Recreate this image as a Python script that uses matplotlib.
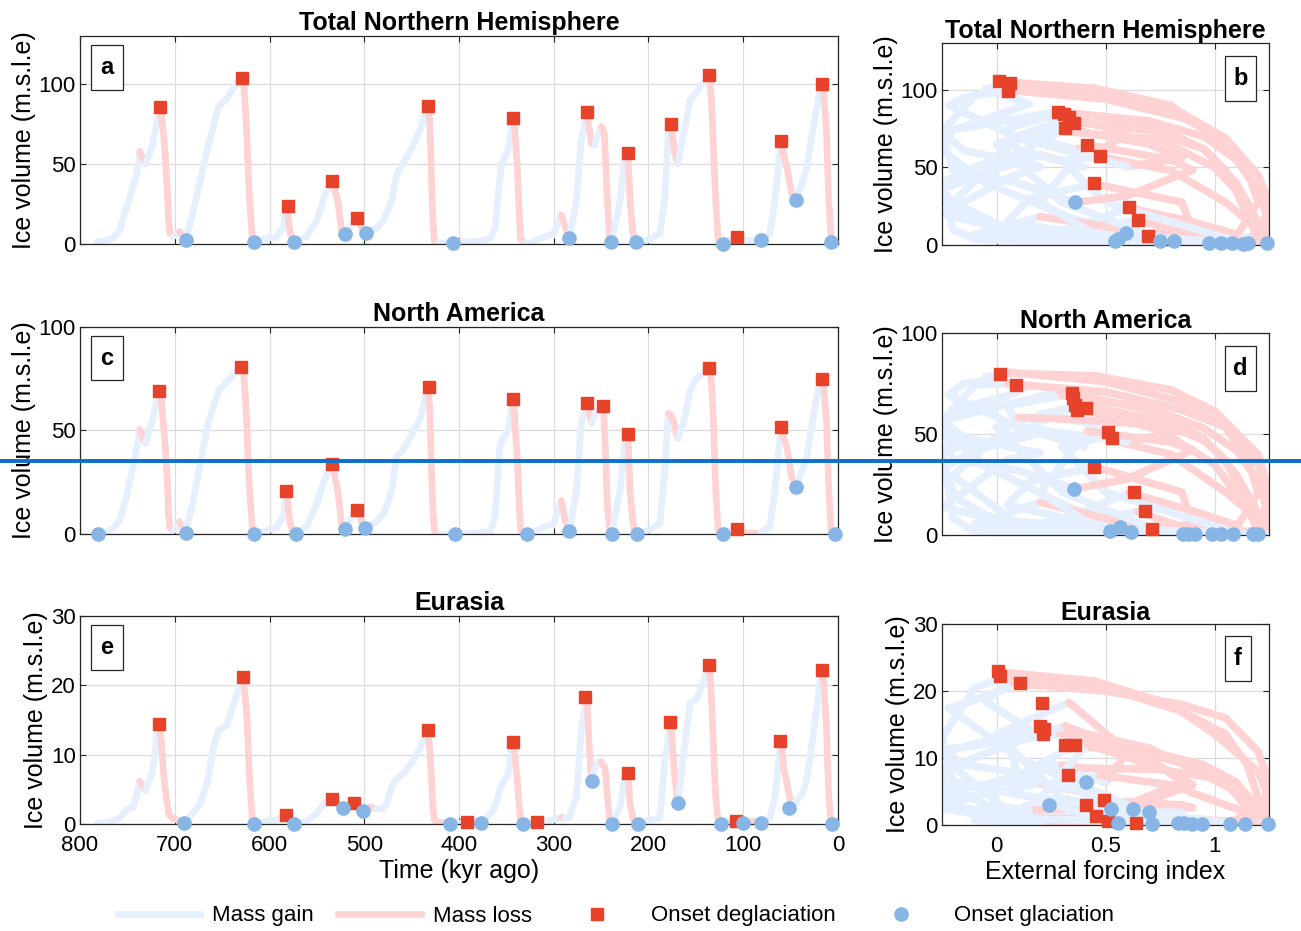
import numpy as np
import matplotlib
matplotlib.use("Agg")
import matplotlib.pyplot as plt
from matplotlib.collections import LineCollection
from matplotlib.lines import Line2D
from matplotlib.patches import Rectangle

plt.rcParams['font.family'] = ['Liberation Sans', 'DejaVu Sans']

# ---- data (time in kyr ago, volume in m s.l.e.) ----
time_kyr = [782, 772, 765, 758, 751, 744, 740, 737, 731, 724,
            719, 716, 714, 712, 710, 708, 706.5, 705, 701, 695,
            689, 682, 673, 665, 659, 654, 645, 635, 629, 627,
            625.5, 624, 622.5, 621, 618, 616, 603, 593, 585, 582,
            580, 578, 574, 561, 550, 542, 534, 528, 524, 520,
            515, 508, 501, 499, 494, 487, 480, 476, 471, 466,
            459, 449, 440, 433, 431, 430, 429, 427.5, 426, 422,
            406, 391, 377, 367, 362, 357, 355, 348, 343, 341.5,
            340, 338.5, 336.5, 335, 330, 325, 317, 310, 300, 292,
            288, 283.5, 276, 271, 265, 262.5, 260, 257, 253, 249.8,
            248, 246.5, 245, 243.4, 241, 239, 230, 225, 222, 221,
            219.5, 217, 215, 212, 198, 188, 183, 179, 176.5, 174,
            172, 169, 163, 156, 149, 142, 136.6, 135, 133.5, 132,
            130.5, 129, 126.5, 121.5, 107, 100, 90, 82, 72, 66.5,
            60.2, 57, 54, 49, 44.4, 37, 33, 26, 19, 16.7,
            15, 13.5, 12, 11, 9.7, 7, 4]
vol_nh = [1.5, 2.5, 4, 9, 23, 36, 44, 58, 50.5, 61,
          75, 85.5, 80, 70, 55, 35, 15, 7, 5, 8,
          2.7, 17, 40, 61, 74, 86, 91, 100.5, 103.7, 98,
          85, 69, 45, 27.6, 2, 1.2, 3.7, 4.4, 11, 24,
          15, 7, 1.2, 4.7, 15, 30, 39.5, 27.6, 9, 6.2,
          11, 16.2, 8, 6.9, 8, 10, 15, 20, 27.6, 43,
          50.5, 61, 73, 86.3, 78, 62, 40, 15, 2, 0.8,
          1.0, 1.5, 2.0, 3.7, 10, 40, 50.5, 59, 79, 74,
          62, 48.4, 20, 3.7, 0.5, 0.6, 3.0, 4.5, 6.9, 18.3,
          11, 3.7, 27.6, 65, 82.3, 72, 63, 62, 68, 73.5,
          72, 68, 50, 27.6, 2.7, 1.2, 27.6, 54.7, 57, 48,
          27.6, 10, 2.7, 1.2, 3.1, 6.9, 27.6, 69, 75, 65,
          56, 50.5, 69, 90, 95, 101.4, 105.4, 101, 90, 69,
          45, 27.6, 2.7, 0.0, 4.7, 2.7, 2.7, 2.7, 6.9, 27.6,
          64.6, 55, 48.4, 31.8, 27.4, 40, 48.4, 73.4, 96.2, 99.8,
          94, 82, 69, 48, 27.6, 1.2, 0.8]
vol_na = [0.0, 1.0, 2.9, 7, 18, 33, 42, 50.5, 43.8, 54,
          64, 69.2, 63, 53, 42, 27, 9, 3, 2, 6,
          0.8, 13, 34, 53, 62, 69, 73.5, 78.3, 80.7, 76,
          66, 53.5, 35, 21, 2, 0.2, 2.0, 3.0, 9.5, 21,
          12, 5, 0.0, 3.7, 14.9, 26.2, 33.9, 21.3, 5.3, 2.4,
          7, 11.7, 4, 3.2, 4.5, 6.1, 10, 14, 21.3, 37.4,
          40.6, 48.6, 56.7, 71.1, 62, 48, 30, 11, 2, 0.0,
          0.0, 0.3, 0.8, 1.3, 8.5, 42, 45, 50.2, 65, 58,
          47, 37.4, 14, 2.0, 0.0, 0.5, 2.0, 3.5, 5.3, 16.2,
          6.9, 1.8, 21.3, 53.5, 63.1, 58, 53.5, 57, 60, 62,
          62, 52, 35, 13.3, 3.0, 0.0, 21.3, 43.8, 48.3, 40,
          21.3, 8, 2.0, 0.0, 2.4, 5.3, 29.4, 58.3, 57.5, 55,
          52, 46.2, 53.5, 69.5, 75.1, 77.5, 80.3, 79, 72, 61.5,
          40, 21.3, 2.0, 0.0, 2.7, 0.8, 0.6, 0.5, 3.7, 21.3,
          51.5, 46, 42.2, 27.8, 22.8, 32, 37.4, 56.7, 74.3, 75,
          71, 62, 53.5, 38, 21.3, 0.0, 0.0]
vol_eu = [0.1, 0.3, 0.5, 0.9, 2.1, 2.5, 4.3, 6.2, 4.9, 7.3,
          12.6, 14.4, 11.5, 7.5, 5.0, 3.0, 1.6, 1.2, 0.8, 0.5,
          0.2, 1.4, 3.0, 6.4, 11.2, 13.5, 14.3, 18.5, 21.2, 20,
          18, 16, 11, 6.4, 0.4, 0.0, 0.4, 0.6, 1.0, 1.34,
          0.9, 0.5, 0.0, 0.4, 1.6, 3.0, 3.7, 3.0, 2.6, 2.35,
          2.8, 3.1, 1.9, 2.0, 2.5, 2.2, 2.3, 3.0, 5.5, 6.5,
          7.3, 9.0, 11.2, 13.6, 11, 9, 6.4, 2.5, 0.6, 0.3,
          0.0, 0.35, 0.2, 1.5, 2.5, 5.0, 5.7, 7.3, 11.9, 10.5,
          8.5, 6.4, 2.5, 0.6, 0.0, 0.2, 0.4, 0.3, 0.7, 1.0,
          0.8, 1.0, 4.0, 13.6, 18.3, 11, 6.3, 8.0, 9.0, 9.0,
          8.5, 8.3, 7, 4.0, 0.6, 0.1, 2.5, 6.9, 7.4, 6,
          3.0, 1.2, 0.4, 0.0, 0.6, 0.9, 8.8, 12.5, 14.8, 10,
          6.4, 3.0, 10, 17.5, 18.1, 20.5, 22.9, 21.5, 18, 13.6,
          8, 4.0, 0.5, 0.1, 0.5, 0.24, 0.4, 0.24, 0.9, 4.0,
          12, 8, 6.0, 2.5, 3.3, 4.5, 6.5, 13, 20.5, 22.2,
          20.5, 17, 13.6, 9, 4.0, 0.1, 0.0]
forcing = [0.95, 0.55, 0.25, 0.0, -0.18, -0.25, -0.1, 0.2, 0.4, 0.1,
           0.05, 0.3, 0.7, 0.95, 1.1, 1.2, 1.25, 1.22, 1.15, 1.0,
           0.81, 0.35, -0.05, -0.25, -0.2, 0.05, 0.15, -0.05, 0.06, 0.5,
           0.85, 1.05, 1.2, 1.25, 1.2, 0.98, 0.45, 0.1, 0.35, 0.607,
           0.9, 1.1, 1.03, 0.5, 0.05, 0.15, 0.447, 0.85, 0.9, 0.56,
           0.45, 0.647, 0.85, 0.59, 0.4, 0.15, -0.1, -0.25, -0.15, 0.05,
           0.2, -0.15, -0.25, 0.29, 0.7, 0.95, 1.1, 1.2, 1.25, 1.22,
           1.08, 0.64, 0.2, -0.1, -0.2, -0.25, -0.1, 0.1, 0.356, 0.7,
           0.95, 1.05, 1.15, 1.2, 1.15, 1.0, 0.6, 0.2, -0.1, 0.2,
           0.55, 0.75, 0.3, 0.0, 0.333, 0.6, 0.5, 0.35, 0.2, 0.3,
           0.4, 0.75, 1.0, 1.15, 1.22, 1.13, 0.5, 0.3, 0.475, 0.8,
           1.05, 1.2, 1.22, 1.155, 0.6, 0.1, -0.2, 0.1, 0.315, 0.7,
           0.85, 0.6, 0.1, -0.22, -0.15, 0.05, 0.009, 0.45, 0.8, 1.0,
           1.2, 1.25, 1.25, 1.24, 0.694, 0.8, 0.85, 0.977, 0.45, 0.2,
           0.417, 0.8, 0.9, 0.6, 0.358, 0.1, -0.2, -0.25, -0.1, 0.052,
           0.5, 0.85, 1.05, 1.15, 1.2, 1.08, 1.2]

# onset markers on the time axis
nh_deg_t = [715.6, 628.6, 581, 533.9, 508, 432.6, 342.7, 265.3, 222, 176.3, 136.6, 106.6, 60.2, 16.6]
nh_deg_v = [85.5, 103.7, 24, 39.5, 16.2, 86.3, 79, 82.3, 57, 75, 105.4, 4.7, 64.6, 99.8]
nh_gla_t = [688.5, 616, 574, 519.8, 498.6, 406, 283.5, 240, 213.2, 121.3, 81.7, 44.4, 7]
nh_gla_v = [2.7, 1.2, 1.2, 6.2, 6.9, 1.0, 3.7, 1.2, 1.2, 0.0, 2.7, 27.4, 1.2]
na_deg_t = [716.6, 630.5, 582.3, 534.4, 508, 431.7, 342.7, 265.3, 248.4, 221.3, 136.5, 106.3, 59.7, 16.8]
na_deg_v = [69.2, 80.7, 21, 33.9, 11.7, 71.1, 65, 63.1, 62, 48.3, 80.3, 2.7, 51.5, 75]
na_gla_t = [781.3, 688.5, 616.4, 572.4, 520.7, 499.6, 404.2, 328.6, 283.6, 238.9, 212.2, 121, 44.6, 2.7]
na_gla_v = [0, 0.8, 0.2, 0, 2.4, 3.2, 0, 0, 1.8, 0, 0, 0, 22.8, 0]
eu_deg_t = [716.4, 627.8, 582.9, 533.6, 510.8, 432.7, 391.2, 342.6, 317.3, 267, 222, 177.3, 136.5, 107.6, 61.2, 17.2]
eu_deg_v = [14.4, 21.2, 1.34, 3.7, 3.1, 13.6, 0.3, 11.9, 0.4, 18.3, 7.4, 14.8, 22.9, 0.5, 12, 22.2]
eu_gla_t = [690, 616.6, 574.4, 522.4, 501.3, 409.5, 377.1, 332.1, 260, 238.9, 211.4, 168.5, 123.5, 99.9, 81.6, 51.4, 6.7]
eu_gla_v = [0.2, 0, 0, 2.35, 1.9, 0, 0.24, 0, 6.3, 0.1, 0, 3.0, 0.1, 0.24, 0.24, 2.4, 0.1]

# onset markers in forcing space
b_deg_f = [0.009, 0.06, 0.052, 0.283, 0.31, 0.333, 0.356, 0.315, 0.417, 0.475, 0.447, 0.607, 0.647, 0.694]
b_deg_v = [105.4, 104.1, 99.4, 86, 84.7, 82.7, 78.8, 75.6, 64.6, 57.2, 39.7, 24.4, 16.2, 5.6]
b_gla_f = [0.358, 0.545, 0.559, 0.592, 0.749, 0.813, 0.977, 1.029, 1.079, 1.132, 1.155, 1.239]
b_gla_v = [27.6, 2.5, 4.1, 7.6, 2.6, 2.6, 1.5, 1.5, 1.5, 0.4, 1.5, 1.5]
d_deg_f = [0.017, 0.09, 0.345, 0.352, 0.36, 0.371, 0.41, 0.513, 0.528, 0.447, 0.63, 0.683, 0.711]
d_deg_v = [79.8, 74.4, 70.6, 68.0, 64.5, 62.0, 62.8, 51.2, 48.3, 33.9, 21.2, 11.9, 3.0]
d_gla_f = [0.356, 0.52, 0.565, 0.615, 0.855, 0.878, 0.912, 0.988, 1.03, 1.087, 1.178, 1.2]
d_gla_v = [22.8, 2.1, 3.8, 1.3, 0.3, 0.3, 0.3, 0.3, 0.3, 0.3, 0.3, 0.3]
f_deg_f = [0.006, 0.017, 0.108, 0.209, 0.2, 0.219, 0.212, 0.315, 0.361, 0.329, 0.409, 0.493, 0.458, 0.513, 0.641]
f_deg_v = [23, 22.2, 21.2, 18.3, 14.75, 14.4, 13.55, 11.9, 11.9, 7.5, 3.05, 3.75, 1.3, 0.55, 0.3]
f_gla_f = [0.409, 0.242, 0.524, 0.626, 0.699, 0.556, 0.711, 0.833, 0.858, 0.896, 0.942, 1.072, 1.14, 1.244]
f_gla_v = [6.4, 3.0, 2.4, 2.4, 2.0, 0.3, 0.1, 0.3, 0.3, 0.2, 0.1, 0.1, 0.1, 0.1]

GAIN = '#E5EFFD'
LOSS = '#FFD3D3'
RED = '#E7432B'
BLUE = '#86B5E6'
DARK = '#262626'


def draw_track(ax, x, y, lw=4.8):
    # segments coloured by sign of the volume change
    x = np.asarray(x, float)
    y = np.asarray(y, float)
    pts = np.column_stack([x, y])
    segs = np.stack([pts[:-1], pts[1:]], axis=1)
    cols = [GAIN if d >= 0 else LOSS for d in np.diff(y)]
    lc = LineCollection(segs, colors=cols, linewidths=lw, capstyle='round', joinstyle='round', zorder=2)
    ax.add_collection(lc)


def style_axes(ax, ylim, yticks):
    ax.set_ylim(*ylim)
    ax.set_yticks(yticks)
    ax.tick_params(direction='in', length=4, width=0.8, top=True, right=True,
                   labelsize=16, colors=DARK, labelcolor='black')
    ax.tick_params(axis='y', pad=3)
    ax.tick_params(axis='x', pad=8)
    ax.grid(True, color='#DCDCDC', lw=0.9)
    ax.set_axisbelow(True)
    for s in ax.spines.values():
        s.set_color(DARK)
        s.set_linewidth(0.9)
    ax.set_ylabel('Ice volume (m.s.l.e)', fontsize=18, labelpad=2)


def panel_tag(ax, txt, cx, cy, w, h):
    ax.add_patch(Rectangle((cx - w / 2, cy - h / 2), w, h, transform=ax.transAxes,
                           fc='white', ec=DARK, lw=0.9, zorder=6))
    ax.text(cx, cy, txt, transform=ax.transAxes, ha='center', va='center', fontsize=17,
            fontweight='bold', zorder=7)


fig = plt.figure(figsize=(13.01, 9.31), dpi=100)

left_boxes = [(0.0615, 0.7376, 0.5826, 0.2237), (0.0615, 0.4261, 0.5826, 0.2230), (0.0615, 0.1146, 0.5826, 0.2237)]
right_boxes = [(0.7241, 0.7368, 0.2513, 0.2167), (0.7241, 0.4253, 0.2513, 0.2167), (0.7241, 0.1139, 0.2513, 0.2156)]

rows = [
    ('Total Northern Hemisphere', vol_nh, (0, 130), [0, 50, 100], nh_deg_t, nh_deg_v, nh_gla_t, nh_gla_v,
     b_deg_f, b_deg_v, b_gla_f, b_gla_v, 'a', 'b'),
    ('North America', vol_na, (0, 100), [0, 50, 100], na_deg_t, na_deg_v, na_gla_t, na_gla_v,
     d_deg_f, d_deg_v, d_gla_f, d_gla_v, 'c', 'd'),
    ('Eurasia', vol_eu, (0, 30), [0, 10, 20, 30], eu_deg_t, eu_deg_v, eu_gla_t, eu_gla_v,
     f_deg_f, f_deg_v, f_gla_f, f_gla_v, 'e', 'f'),
]

for i, (title, vol, ylim, yt, dt, dv, gt, gv, pdf, pdv, pgf, pgv, tl, tr) in enumerate(rows):
    # time series
    ax = fig.add_axes(left_boxes[i])
    draw_track(ax, time_kyr, vol)
    ax.plot(dt, dv, 's', color=RED, ms=8, mec=RED, zorder=4, clip_on=False)
    ax.plot(gt, gv, 'o', color=BLUE, ms=9.5, mec=BLUE, zorder=4, clip_on=False)
    ax.set_xlim(800, 0)
    ax.set_xticks(np.arange(800, -1, -100))
    style_axes(ax, ylim, yt)
    ax.set_title(title, fontsize=18, fontweight='bold', pad=4)
    if i < 2:
        ax.set_xticklabels([])
    else:
        ax.set_xlabel('Time (kyr ago)', fontsize=18, labelpad=2)
    panel_tag(ax, tl, 0.0356, 0.849, 0.041, 0.216)

    # forcing space
    bx = fig.add_axes(right_boxes[i])
    draw_track(bx, forcing, vol, lw=5.5)
    bx.plot(pdf, pdv, 's', color=RED, ms=8, mec=RED, zorder=4, clip_on=False)
    bx.plot(pgf, pgv, 'o', color=BLUE, ms=9.5, mec=BLUE, zorder=4, clip_on=False)
    bx.set_xlim(-0.25, 1.25)
    bx.set_xticks([0, 0.5, 1])
    bx.set_xticklabels(['0', '0.5', '1'])
    style_axes(bx, ylim, yt)
    bx.set_title(title, fontsize=18, fontweight='bold', pad=3)
    if i < 2:
        bx.set_xticklabels([])
    else:
        bx.set_xlabel('External forcing index', fontsize=18, labelpad=2)
    if tr == 'f':
        panel_tag(bx, tr, 0.905, 0.827, 0.078, 0.224)
    else:
        panel_tag(bx, tr, 0.913, 0.826, 0.095, 0.223)

handles = [Line2D([], [], color=GAIN, lw=4.8),
           Line2D([], [], color=LOSS, lw=4.8),
           Line2D([], [], ls='none', marker='s', color=RED, ms=8),
           Line2D([], [], ls='none', marker='o', color=BLUE, ms=9.5)]
fig.legend(handles, ['Mass gain', 'Mass loss', 'Onset deglaciation', 'Onset glaciation'],
           loc='center', bbox_to_anchor=(0.4735, 1 - 916 / 931), ncol=4, frameon=False,
           fontsize=16, handlelength=3.7, columnspacing=1.1, handletextpad=0.55)

# horizontal marker line across the figure
fig.add_artist(Line2D([0, 1], [1 - 461 / 931] * 2, transform=fig.transFigure,
                      color='#0A70CF', lw=2.8, zorder=10))

fig.savefig('out.png', dpi=100)
